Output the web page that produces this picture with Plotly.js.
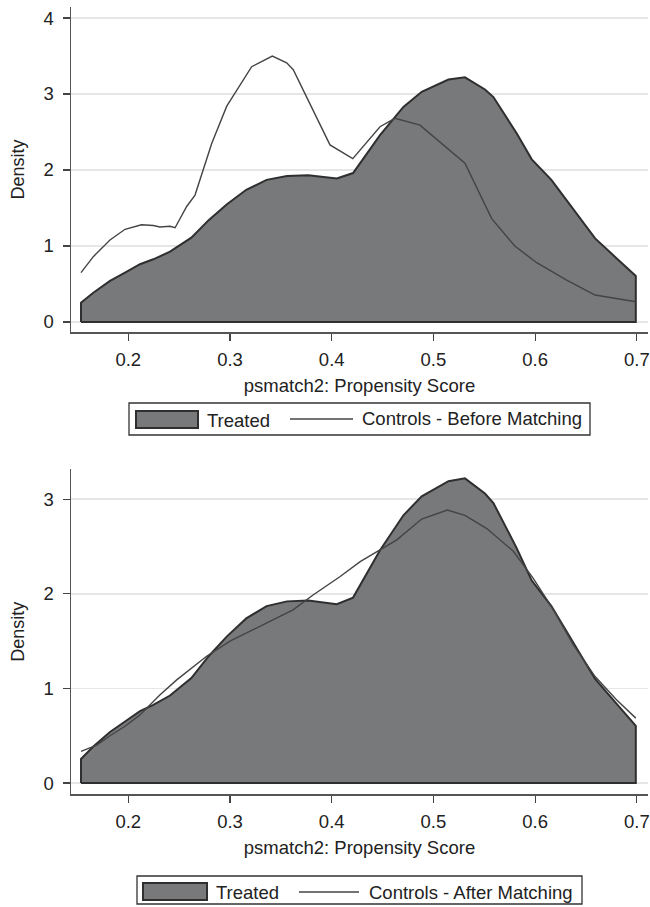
<!DOCTYPE html>
<html>
<head>
<meta charset="utf-8">
<script src="https://cdn.plot.ly/plotly-3.0.1.min.js"></script>
<style>
  html, body { margin: 0; padding: 0; background: #fff; }
  #chart { width: 650px; height: 907px; }
</style>
</head>
<body>
<div id="chart"></div>
<script>
// ---- Data ----
var treatedX = [0.1535, 0.1656, 0.182, 0.1968, 0.2115, 0.2246, 0.241, 0.262, 0.279, 0.297, 0.316, 0.336, 0.356, 0.377, 0.405, 0.421, 0.4475, 0.4705, 0.4885, 0.5148, 0.531, 0.5507, 0.559, 0.582, 0.5967, 0.616, 0.6376, 0.659, 0.680, 0.699];
var treatedY = [0.254, 0.385, 0.54, 0.65, 0.76, 0.825, 0.925, 1.11, 1.34, 1.55, 1.74, 1.87, 1.92, 1.93, 1.89, 1.96, 2.46, 2.83, 3.03, 3.19, 3.22, 3.06, 2.96, 2.48, 2.14, 1.87, 1.48, 1.10, 0.84, 0.605];

var beforeX = [0.1535, 0.1656, 0.182, 0.1968, 0.213, 0.2246, 0.231, 0.241, 0.246, 0.2574, 0.2656, 0.282, 0.2968, 0.3213, 0.3416, 0.3557, 0.3622, 0.3983, 0.4207, 0.4475, 0.4622, 0.4868, 0.531, 0.5573, 0.580, 0.6016, 0.631, 0.659, 0.699];
var beforeY = [0.65, 0.86, 1.08, 1.22, 1.28, 1.27, 1.25, 1.26, 1.24, 1.52, 1.67, 2.35, 2.84, 3.36, 3.50, 3.41, 3.32, 2.33, 2.15, 2.57, 2.68, 2.59, 2.09, 1.36, 1.00, 0.78, 0.55, 0.355, 0.267];

var afterX = [0.1535, 0.169, 0.182, 0.1968, 0.2115, 0.231, 0.2476, 0.277, 0.300, 0.336, 0.362, 0.382, 0.408, 0.428, 0.464, 0.4885, 0.5137, 0.531, 0.5525, 0.5786, 0.598, 0.618, 0.6376, 0.659, 0.680, 0.699];
var afterY = [0.334, 0.40, 0.50, 0.60, 0.72, 0.93, 1.09, 1.34, 1.50, 1.69, 1.83, 1.99, 2.18, 2.34, 2.57, 2.79, 2.886, 2.83, 2.69, 2.45, 2.165, 1.83, 1.46, 1.125, 0.88, 0.686];

var xTicks = [0.2, 0.3, 0.4, 0.5, 0.6, 0.7];
var xTickText = ['0.2', '0.3', '0.4', '0.5', '0.6', '0.7'];
var yTicksTop = [0, 1, 2, 3, 4];
var yTicksBottom = [0, 1, 2, 3];

var xTitle = 'psmatch2: Propensity Score';
var yTitle = 'Density';
var nameTreated = 'Treated';
var nameBefore = 'Controls - Before Matching';
var nameAfter = 'Controls - After Matching';

// ---- Build closed area polygon for treated density ----
function areaX(xs) { return [xs[0]].concat(xs, [xs[xs.length - 1], xs[0]]); }
function areaY(ys) { return [0].concat(ys, [0, 0]); }

var FILL = '#78797b';
var EDGE = '#2f2f2f';
var CTRL = '#444444';
var FONT = { family: 'Liberation Sans, Arial, Helvetica, sans-serif', size: 18.5, color: '#222' };

var traces = [
  { x: areaX(treatedX), y: areaY(treatedY), xaxis: 'x', yaxis: 'y', type: 'scatter', mode: 'lines',
    fill: 'toself', fillcolor: FILL, line: { color: EDGE, width: 2 }, name: nameTreated, showlegend: false, hoverinfo: 'skip' },
  { x: beforeX, y: beforeY, xaxis: 'x', yaxis: 'y', type: 'scatter', mode: 'lines',
    line: { color: CTRL, width: 1.4 }, name: nameBefore, showlegend: false },
  { x: areaX(treatedX), y: areaY(treatedY), xaxis: 'x2', yaxis: 'y2', type: 'scatter', mode: 'lines',
    fill: 'toself', fillcolor: FILL, line: { color: EDGE, width: 2 }, name: nameTreated, showlegend: false, hoverinfo: 'skip' },
  { x: afterX, y: afterY, xaxis: 'x2', yaxis: 'y2', type: 'scatter', mode: 'lines',
    line: { color: CTRL, width: 1.4 }, name: nameAfter, showlegend: false }
];

// pixel -> paper helpers (plot area: x 71..648, y 7..794)
var L = 71, R = 648, T = 7, B = 794;
function px(v) { return (v - L) / (R - L); }
function py(v) { return (B - v) / (B - T); }

var xRange = [0.14366, 0.7110];

function xAxis(anchor) {
  return {
    anchor: anchor, range: xRange, tickmode: 'array', tickvals: xTicks, ticktext: xTickText,
    ticks: 'outside', ticklen: 7, tickwidth: 1.2, tickcolor: '#444',
    showline: true, linecolor: '#555', linewidth: 1.5, showgrid: false, zeroline: false,
    tickfont: FONT, ticklabelstandoff: 3,
    title: { text: xTitle, font: FONT, standoff: 10 }
  };
}
function yAxis(anchor, domain, range, ticks) {
  return {
    anchor: anchor, domain: domain, range: range, tickmode: 'array', tickvals: ticks,
    ticks: 'outside', ticklen: 7, tickwidth: 1.2, tickcolor: '#444',
    showline: true, linecolor: '#555', linewidth: 1.5,
    showgrid: true, gridcolor: '#e6e6e6', gridwidth: 1.5, zeroline: false,
    tickfont: FONT, ticklabelstandoff: 5,
    title: { text: yTitle, font: { family: FONT.family, size: 18, color: '#222' }, standoff: 14 }
  };
}

var topDomain = [py(332), 1];
var botDomain = [0, py(469.3)];

// legend drawn as boxed key (like the Stata legend)
function legendShapes(box, sw, ln) {
  return [
    { type: 'rect', xref: 'paper', yref: 'paper', x0: px(box[0]), x1: px(box[2]), y0: py(box[1]), y1: py(box[3]),
      line: { color: '#333', width: 1.3 }, fillcolor: 'rgba(0,0,0,0)' },
    { type: 'rect', xref: 'paper', yref: 'paper', x0: px(sw[0]), x1: px(sw[2]), y0: py(sw[1]), y1: py(sw[3]),
      line: { color: EDGE, width: 2 }, fillcolor: FILL },
    { type: 'line', xref: 'paper', yref: 'paper', x0: px(ln[0]), x1: px(ln[2]), y0: py(ln[1]), y1: py(ln[1]),
      line: { color: CTRL, width: 1.4 } }
  ];
}
function legendText(x, y, text) {
  return { xref: 'paper', yref: 'paper', x: px(x), y: py(y), xanchor: 'left', yanchor: 'middle',
    text: text, showarrow: false, font: FONT };
}

var shapes = []
  .concat(legendShapes([129, 403, 590, 435], [136, 411, 198, 428], [290, 419, 353]))
  .concat(legendShapes([137, 876, 582, 904], [143, 883, 207, 900], [299, 892, 359]));

var annotations = [
  legendText(205, 420, nameTreated),
  legendText(360, 419, nameBefore),
  legendText(214, 892, nameTreated),
  legendText(367, 892, nameAfter)
];

var layout = {
  width: 650, height: 907,
  margin: { l: L, r: 650 - R, t: T, b: 907 - B },
  paper_bgcolor: '#ffffff', plot_bgcolor: '#ffffff',
  showlegend: false,
  font: FONT,
  xaxis: xAxis('y'),
  yaxis: yAxis('x', topDomain, [-0.1316, 4.145], yTicksTop),
  xaxis2: xAxis('y2'),
  yaxis2: yAxis('x2', botDomain, [-0.116, 3.316], yTicksBottom),
  shapes: shapes,
  annotations: annotations
};

Plotly.newPlot('chart', traces, layout, { displayModeBar: false, staticPlot: true });
</script>
</body>
</html>
